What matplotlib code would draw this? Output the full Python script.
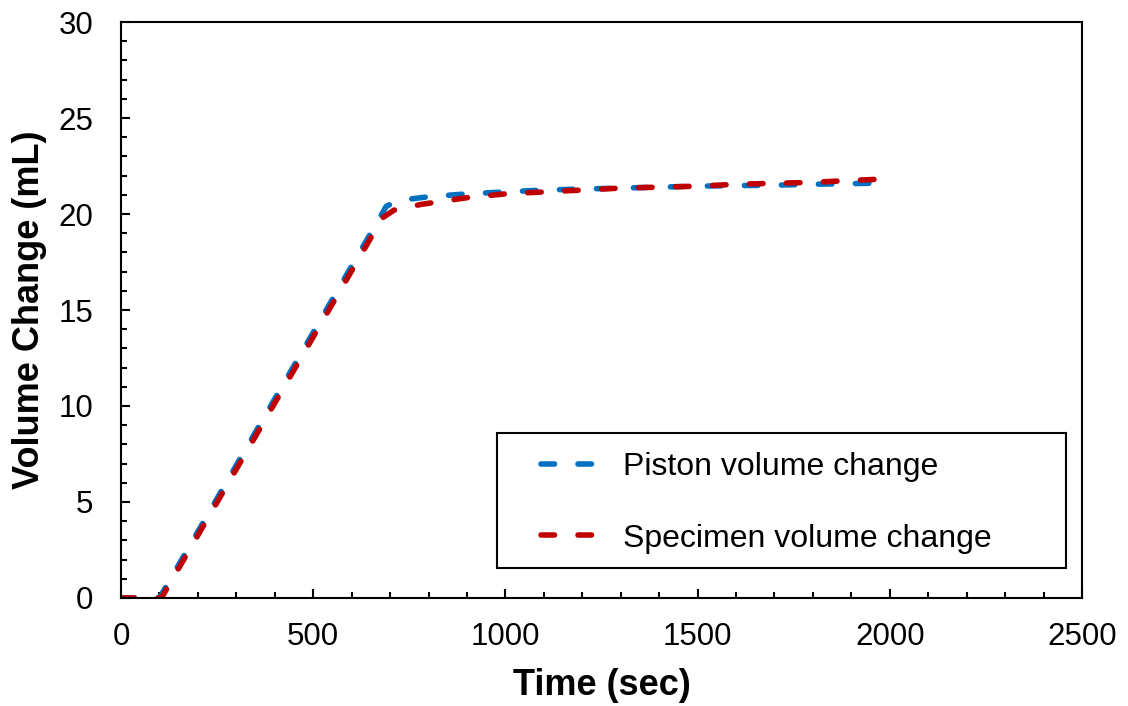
import matplotlib
matplotlib.use("Agg")
import matplotlib.pyplot as plt
from matplotlib.ticker import MultipleLocator
from matplotlib.patches import Rectangle

plt.rcParams['font.family'] = ['Liberation Sans', 'DejaVu Sans']

piston_t = [0, 100, 690, 720, 800, 900, 1000, 1100, 1200, 1300, 1400, 1500, 1600, 1700, 1800, 1950]
piston_v = [0, 0, 20.4, 20.7, 20.9, 21.05, 21.15, 21.25, 21.3, 21.35, 21.4, 21.45, 21.48, 21.5, 21.55, 21.6]

spec_t = [0, 105, 680, 710, 780, 900, 1000, 1100, 1200, 1300, 1400, 1500, 1600, 1700, 1800, 1900, 1960]
spec_v = [0, 0, 19.8, 20.2, 20.5, 20.85, 21.05, 21.15, 21.25, 21.35, 21.4, 21.45, 21.55, 21.6, 21.65, 21.75, 21.8]

labels = ["Piston volume change", "Specimen volume change"]
colors = ["#0070C0", "#C00000"]

fig = plt.figure(figsize=(11.28, 7.06), dpi=100)
ax = fig.add_axes([0.1073, 0.153, 0.8519, 0.8158])

lw = 4.0
for t, v, lab, c in [(piston_t, piston_v, labels[0], colors[0]), (spec_t, spec_v, labels[1], colors[1])]:
    ax.plot(t, v, color=c, lw=lw, label=lab, linestyle=(0, (2.43, 4.23)),
            dash_capstyle='round', solid_capstyle='round')

ax.set_xlim(0, 2500)
ax.set_ylim(0, 30)
ax.xaxis.set_major_locator(MultipleLocator(500))
ax.xaxis.set_minor_locator(MultipleLocator(100))
ax.yaxis.set_major_locator(MultipleLocator(5))
ax.yaxis.set_minor_locator(MultipleLocator(1))
ax.tick_params(which='both', direction='in', top=False, right=False, width=1.5, labelsize=22.5)
ax.tick_params(axis='x', which='both', pad=17)
ax.tick_params(axis='y', which='both', pad=20)
ax.tick_params(which='major', length=6.5)
ax.tick_params(which='minor', length=4.3)
for s in ax.spines.values():
    s.set_linewidth(1.5)

ax.set_xlabel("Time (sec)", fontsize=26, fontweight='bold', labelpad=12)
ax.set_ylabel("Volume Change (mL)", fontsize=26, fontweight='bold', labelpad=8)

# legend frame
ax.add_patch(Rectangle((0.391, 0.052), 0.592, 0.234, transform=ax.transAxes,
                       fill=True, facecolor='white', edgecolor='black', lw=1.5, zorder=4))
leg = ax.legend(loc='upper left', bbox_to_anchor=((541 - 121) / 961, (598 - 452) / 576),
                fontsize=23, frameon=False, handlelength=1.7, borderpad=0,
                labelspacing=1.3, handletextpad=0.88, borderaxespad=0)
leg.set_zorder(5)

fig.savefig("out.png", dpi=100)
